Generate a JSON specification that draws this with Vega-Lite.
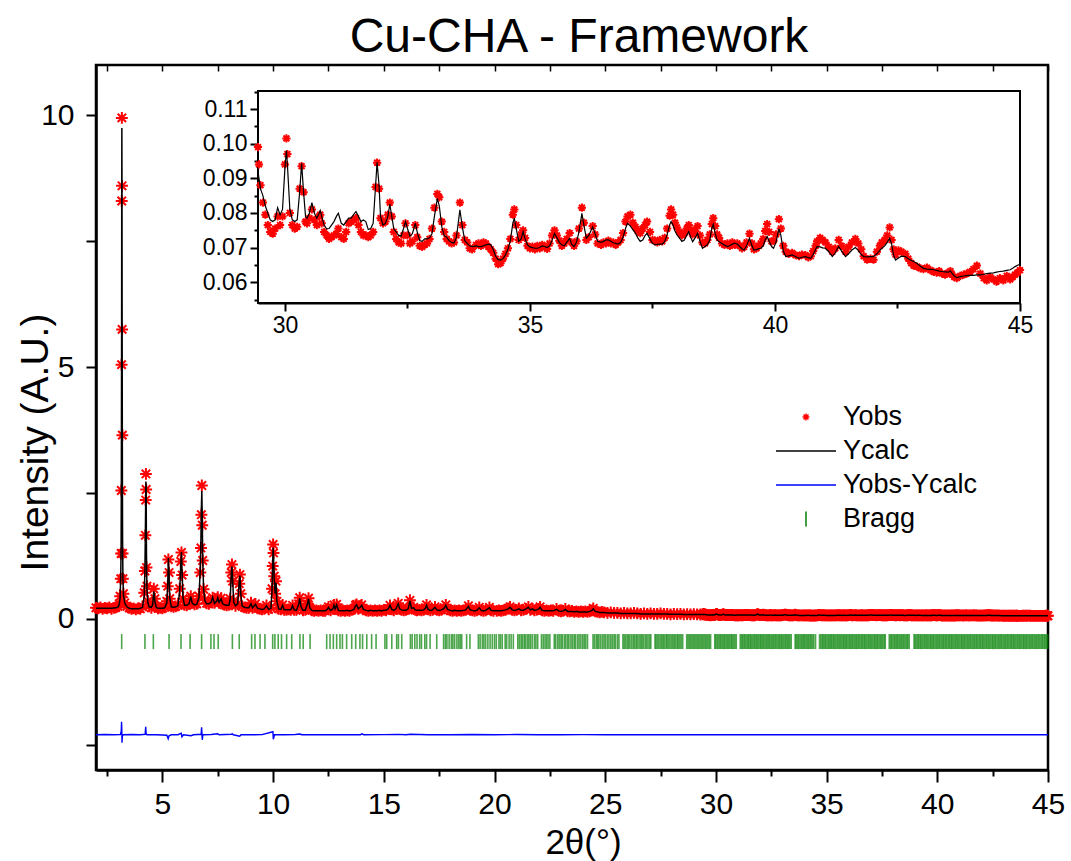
{
  "$schema": "https://vega.github.io/schema/vega-lite/v6.json",
  "width": 952,
  "height": 705,
  "autosize": {"type": "none"},
  "padding": {"left": 96, "top": 65, "right": 23, "bottom": 91},
  "background": "white",
  "title": {"text": "Cu-CHA - Framework", "fontSize": 48, "font": "Liberation Sans", "fontWeight": "normal", "anchor": "middle", "frame": "group", "offset": 2, "dx": 7, "color": "black"},
  "config": {
    "view": {"stroke": "black", "strokeWidth": 2.5},
    "axis": {"grid": false, "domainColor": "black", "tickColor": "black", "labelColor": "black", "titleColor": "black", "titleFontWeight": "normal", "labelFont": "Liberation Sans", "titleFont": "Liberation Sans"}
  },
  "datasets": {
    "pattern": [
      {"x":2.0,"obs":0.22,"calc":0.21},{"x":2.1,"obs":0.21,"calc":0.21},{"x":2.2,"obs":0.23,"calc":0.21},{"x":2.3,"obs":0.2,"calc":0.21},{"x":2.4,"obs":0.22,"calc":0.21},
      {"x":2.5,"obs":0.21,"calc":0.21},{"x":2.6,"obs":0.23,"calc":0.21},{"x":2.7,"obs":0.2,"calc":0.21},{"x":2.8,"obs":0.22,"calc":0.215},{"x":2.9,"obs":0.23,"calc":0.22},
      {"x":3.0,"obs":0.25,"calc":0.24},{"x":3.05,"obs":0.3,"calc":0.29},{"x":3.09,"obs":0.45,"calc":0.42},{"x":3.12,"obs":0.8,"calc":0.9},{"x":3.135,"obs":1.3,"calc":1.5},
      {"x":3.145,"obs":2.55,"calc":2.8},{"x":3.155,"obs":5.05,"calc":5.2},{"x":3.162,"obs":8.3,"calc":8.1},{"x":3.168,"obs":9.95,"calc":9.75},{"x":3.174,"obs":8.6,"calc":8.5},
      {"x":3.18,"obs":5.75,"calc":5.9},{"x":3.19,"obs":3.65,"calc":3.4},{"x":3.2,"obs":1.3,"calc":1.6},{"x":3.215,"obs":0.8,"calc":0.85},{"x":3.24,"obs":0.5,"calc":0.48},
      {"x":3.3,"obs":0.32,"calc":0.31},{"x":3.4,"obs":0.25,"calc":0.24},{"x":3.5,"obs":0.22,"calc":0.21},{"x":3.6,"obs":0.2,"calc":0.2},{"x":3.7,"obs":0.21,"calc":0.2},
      {"x":3.8,"obs":0.19,"calc":0.2},{"x":3.9,"obs":0.21,"calc":0.2},{"x":4.0,"obs":0.2,"calc":0.21},{"x":4.1,"obs":0.24,"calc":0.23},{"x":4.18,"obs":0.52,"calc":0.45},
      {"x":4.21,"obs":0.95,"calc":1.0},{"x":4.23,"obs":1.66,"calc":1.7},{"x":4.245,"obs":2.36,"calc":2.4},{"x":4.255,"obs":2.88,"calc":2.73},{"x":4.265,"obs":2.57,"calc":2.6},
      {"x":4.28,"obs":1.02,"calc":1.3},{"x":4.3,"obs":0.65,"calc":0.6},{"x":4.34,"obs":0.35,"calc":0.33},{"x":4.4,"obs":0.25,"calc":0.24},{"x":4.5,"obs":0.22,"calc":0.23},
      {"x":4.56,"obs":0.3,"calc":0.28},{"x":4.61,"obs":0.6,"calc":0.55},{"x":4.66,"obs":0.4,"calc":0.35},{"x":4.72,"obs":0.24,"calc":0.23},{"x":4.8,"obs":0.21,"calc":0.21},
      {"x":4.9,"obs":0.22,"calc":0.21},{"x":5.0,"obs":0.21,"calc":0.21},{"x":5.1,"obs":0.23,"calc":0.22},{"x":5.2,"obs":0.35,"calc":0.32},{"x":5.24,"obs":0.65,"calc":0.7},
      {"x":5.27,"obs":1.18,"calc":1.21},{"x":5.3,"obs":0.92,"calc":0.9},{"x":5.33,"obs":0.4,"calc":0.42},{"x":5.4,"obs":0.25,"calc":0.24},{"x":5.5,"obs":0.24,"calc":0.23},
      {"x":5.6,"obs":0.25,"calc":0.24},{"x":5.7,"obs":0.27,"calc":0.26},{"x":5.78,"obs":0.6,"calc":0.55},{"x":5.83,"obs":1.14,"calc":1.1},{"x":5.86,"obs":1.32,"calc":1.33},
      {"x":5.89,"obs":0.87,"calc":0.9},{"x":5.93,"obs":0.4,"calc":0.42},{"x":6.0,"obs":0.28,"calc":0.27},{"x":6.1,"obs":0.27,"calc":0.27},{"x":6.2,"obs":0.3,"calc":0.3},
      {"x":6.28,"obs":0.45,"calc":0.44},{"x":6.35,"obs":0.32,"calc":0.31},{"x":6.45,"obs":0.29,"calc":0.28},{"x":6.55,"obs":0.3,"calc":0.29},{"x":6.65,"obs":0.45,"calc":0.42},
      {"x":6.71,"obs":0.92,"calc":1.0},{"x":6.74,"obs":1.41,"calc":1.6},{"x":6.76,"obs":2.07,"calc":2.2},{"x":6.78,"obs":2.65,"calc":2.54},{"x":6.8,"obs":1.86,"calc":2.0},
      {"x":6.82,"obs":1.16,"calc":1.2},{"x":6.86,"obs":0.59,"calc":0.6},{"x":6.92,"obs":0.38,"calc":0.36},{"x":7.0,"obs":0.31,"calc":0.3},{"x":7.1,"obs":0.3,"calc":0.3},
      {"x":7.2,"obs":0.33,"calc":0.33},{"x":7.27,"obs":0.42,"calc":0.43},{"x":7.35,"obs":0.32,"calc":0.31},{"x":7.45,"obs":0.36,"calc":0.35},{"x":7.5,"obs":0.43,"calc":0.42},
      {"x":7.56,"obs":0.32,"calc":0.33},{"x":7.65,"obs":0.41,"calc":0.4},{"x":7.72,"obs":0.3,"calc":0.3},{"x":7.8,"obs":0.28,"calc":0.28},{"x":7.9,"obs":0.27,"calc":0.27},
      {"x":8.0,"obs":0.28,"calc":0.27},{"x":8.06,"obs":0.4,"calc":0.38},{"x":8.11,"obs":0.92,"calc":0.9},{"x":8.14,"obs":1.08,"calc":1.04},{"x":8.17,"obs":0.75,"calc":0.8},
      {"x":8.22,"obs":0.33,"calc":0.33},{"x":8.3,"obs":0.26,"calc":0.26},{"x":8.4,"obs":0.3,"calc":0.3},{"x":8.47,"obs":0.7,"calc":0.75},{"x":8.5,"obs":0.88,"calc":0.86},
      {"x":8.54,"obs":0.5,"calc":0.5},{"x":8.6,"obs":0.25,"calc":0.26},{"x":8.7,"obs":0.23,"calc":0.23},{"x":8.8,"obs":0.22,"calc":0.22},{"x":8.9,"obs":0.22,"calc":0.22},
      {"x":9.0,"obs":0.32,"calc":0.3},{"x":9.07,"obs":0.22,"calc":0.22},{"x":9.2,"obs":0.3,"calc":0.29},{"x":9.3,"obs":0.21,"calc":0.21},{"x":9.4,"obs":0.2,"calc":0.2},
      {"x":9.5,"obs":0.19,"calc":0.19},{"x":9.6,"obs":0.2,"calc":0.2},{"x":9.7,"obs":0.27,"calc":0.26},{"x":9.8,"obs":0.19,"calc":0.19},{"x":9.9,"obs":0.22,"calc":0.21},
      {"x":9.95,"obs":0.6,"calc":0.55},{"x":9.98,"obs":1.05,"calc":1.1},{"x":10.0,"obs":1.48,"calc":1.42},{"x":10.02,"obs":1.31,"calc":1.25},{"x":10.05,"obs":0.85,"calc":0.8},
      {"x":10.09,"obs":0.5,"calc":0.5},{"x":10.13,"obs":0.75,"calc":0.72},{"x":10.17,"obs":0.35,"calc":0.35},{"x":10.25,"obs":0.2,"calc":0.2},{"x":10.35,"obs":0.19,"calc":0.19},
      {"x":10.43,"obs":0.28,"calc":0.27},{"x":10.5,"obs":0.18,"calc":0.18},{"x":10.6,"obs":0.18,"calc":0.18},{"x":10.7,"obs":0.19,"calc":0.18},{"x":10.8,"obs":0.18,"calc":0.18},
      {"x":10.88,"obs":0.27,"calc":0.26},{"x":10.95,"obs":0.18,"calc":0.18},{"x":11.05,"obs":0.18,"calc":0.17},{"x":11.15,"obs":0.3,"calc":0.28},{"x":11.2,"obs":0.42,"calc":0.41},
      {"x":11.26,"obs":0.24,"calc":0.24},{"x":11.35,"obs":0.17,"calc":0.17},{"x":11.45,"obs":0.18,"calc":0.17},{"x":11.55,"obs":0.3,"calc":0.3},{"x":11.6,"obs":0.41,"calc":0.4},
      {"x":11.66,"obs":0.22,"calc":0.22},{"x":11.75,"obs":0.17,"calc":0.17},{"x":11.85,"obs":0.16,"calc":0.16},{"x":11.95,"obs":0.17,"calc":0.16},{"x":12.05,"obs":0.16,"calc":0.16},
      {"x":12.15,"obs":0.17,"calc":0.16},{"x":12.25,"obs":0.16,"calc":0.16},{"x":12.35,"obs":0.16,"calc":0.16},{"x":12.45,"obs":0.2,"calc":0.19},{"x":12.5,"obs":0.24,"calc":0.23},
      {"x":12.6,"obs":0.17,"calc":0.17},{"x":12.7,"obs":0.2,"calc":0.2},{"x":12.75,"obs":0.28,"calc":0.27},{"x":12.8,"obs":0.2,"calc":0.2},{"x":12.87,"obs":0.29,"calc":0.28},
      {"x":12.95,"obs":0.17,"calc":0.17},{"x":13.05,"obs":0.16,"calc":0.16},{"x":13.15,"obs":0.17,"calc":0.16},{"x":13.25,"obs":0.16,"calc":0.16},{"x":13.35,"obs":0.17,"calc":0.17},
      {"x":13.45,"obs":0.16,"calc":0.16},{"x":13.55,"obs":0.18,"calc":0.17},{"x":13.65,"obs":0.2,"calc":0.19},{"x":13.72,"obs":0.27,"calc":0.26},{"x":13.77,"obs":0.29,"calc":0.28},
      {"x":13.85,"obs":0.2,"calc":0.2},{"x":13.93,"obs":0.24,"calc":0.23},{"x":14.0,"obs":0.28,"calc":0.27},{"x":14.08,"obs":0.19,"calc":0.19},{"x":14.2,"obs":0.17,"calc":0.17},
      {"x":14.3,"obs":0.16,"calc":0.16},{"x":14.4,"obs":0.17,"calc":0.17},{"x":14.5,"obs":0.16,"calc":0.16},{"x":14.6,"obs":0.17,"calc":0.16},{"x":14.7,"obs":0.16,"calc":0.16},
      {"x":14.8,"obs":0.17,"calc":0.17},{"x":14.9,"obs":0.16,"calc":0.16},{"x":15.0,"obs":0.18,"calc":0.17},{"x":15.1,"obs":0.17,"calc":0.17},{"x":15.2,"obs":0.2,"calc":0.2},
      {"x":15.28,"obs":0.27,"calc":0.27},{"x":15.36,"obs":0.19,"calc":0.19},{"x":15.45,"obs":0.17,"calc":0.17},{"x":15.55,"obs":0.2,"calc":0.2},{"x":15.65,"obs":0.31,"calc":0.3},
      {"x":15.72,"obs":0.2,"calc":0.2},{"x":15.8,"obs":0.18,"calc":0.18},{"x":15.9,"obs":0.17,"calc":0.17},{"x":16.0,"obs":0.18,"calc":0.17},{"x":16.1,"obs":0.2,"calc":0.2},
      {"x":16.18,"obs":0.37,"calc":0.36},{"x":16.25,"obs":0.21,"calc":0.21},{"x":16.35,"obs":0.23,"calc":0.22},{"x":16.42,"obs":0.18,"calc":0.18},{"x":16.5,"obs":0.17,"calc":0.17},
      {"x":16.6,"obs":0.18,"calc":0.17},{"x":16.7,"obs":0.17,"calc":0.17},{"x":16.8,"obs":0.18,"calc":0.18},{"x":16.88,"obs":0.22,"calc":0.21},{"x":16.93,"obs":0.28,"calc":0.27},
      {"x":17.0,"obs":0.19,"calc":0.19},{"x":17.1,"obs":0.17,"calc":0.17},{"x":17.2,"obs":0.18,"calc":0.18},{"x":17.31,"obs":0.24,"calc":0.23},{"x":17.4,"obs":0.18,"calc":0.18},
      {"x":17.5,"obs":0.17,"calc":0.17},{"x":17.6,"obs":0.18,"calc":0.18},{"x":17.72,"obs":0.22,"calc":0.21},{"x":17.8,"obs":0.28,"calc":0.27},{"x":17.88,"obs":0.19,"calc":0.19},
      {"x":18.0,"obs":0.17,"calc":0.17},{"x":18.1,"obs":0.16,"calc":0.16},{"x":18.2,"obs":0.17,"calc":0.17},{"x":18.3,"obs":0.16,"calc":0.16},{"x":18.4,"obs":0.17,"calc":0.16},
      {"x":18.5,"obs":0.16,"calc":0.16},{"x":18.6,"obs":0.17,"calc":0.17},{"x":18.7,"obs":0.18,"calc":0.18},{"x":18.82,"obs":0.26,"calc":0.25},{"x":18.9,"obs":0.18,"calc":0.18},
      {"x":19.0,"obs":0.17,"calc":0.17},{"x":19.1,"obs":0.16,"calc":0.16},{"x":19.2,"obs":0.17,"calc":0.17},{"x":19.31,"obs":0.23,"calc":0.22},{"x":19.4,"obs":0.17,"calc":0.17},
      {"x":19.5,"obs":0.16,"calc":0.16},{"x":19.6,"obs":0.17,"calc":0.17},{"x":19.77,"obs":0.23,"calc":0.22},{"x":19.85,"obs":0.17,"calc":0.17},{"x":19.95,"obs":0.16,"calc":0.16},
      {"x":20.1,"obs":0.16,"calc":0.16},{"x":20.2,"obs":0.17,"calc":0.16},{"x":20.3,"obs":0.16,"calc":0.16},{"x":20.4,"obs":0.17,"calc":0.17},{"x":20.5,"obs":0.18,"calc":0.18},
      {"x":20.62,"obs":0.21,"calc":0.2},{"x":20.7,"obs":0.24,"calc":0.23},{"x":20.8,"obs":0.18,"calc":0.18},{"x":20.9,"obs":0.17,"calc":0.17},{"x":21.0,"obs":0.18,"calc":0.18},
      {"x":21.1,"obs":0.21,"calc":0.2},{"x":21.2,"obs":0.17,"calc":0.17},{"x":21.3,"obs":0.18,"calc":0.17},{"x":21.42,"obs":0.2,"calc":0.2},{"x":21.53,"obs":0.24,"calc":0.23},
      {"x":21.62,"obs":0.18,"calc":0.18},{"x":21.72,"obs":0.2,"calc":0.2},{"x":21.8,"obs":0.17,"calc":0.17},{"x":21.9,"obs":0.18,"calc":0.18},{"x":22.0,"obs":0.2,"calc":0.2},
      {"x":22.06,"obs":0.24,"calc":0.23},{"x":22.15,"obs":0.17,"calc":0.17},{"x":22.25,"obs":0.16,"calc":0.16},{"x":22.35,"obs":0.17,"calc":0.16},{"x":22.45,"obs":0.16,"calc":0.16},
      {"x":22.55,"obs":0.17,"calc":0.16},{"x":22.65,"obs":0.16,"calc":0.16},{"x":22.8,"obs":0.2,"calc":0.19},{"x":22.9,"obs":0.16,"calc":0.16},{"x":23.0,"obs":0.15,"calc":0.15},
      {"x":23.1,"obs":0.16,"calc":0.16},{"x":23.2,"obs":0.2,"calc":0.19},{"x":23.3,"obs":0.15,"calc":0.15},{"x":23.4,"obs":0.15,"calc":0.15},{"x":23.5,"obs":0.16,"calc":0.15},
      {"x":23.6,"obs":0.14,"calc":0.14},{"x":23.7,"obs":0.15,"calc":0.15},{"x":23.8,"obs":0.14,"calc":0.14},{"x":23.9,"obs":0.15,"calc":0.14},{"x":24.0,"obs":0.14,"calc":0.14},
      {"x":24.1,"obs":0.15,"calc":0.14},{"x":24.2,"obs":0.14,"calc":0.14},{"x":24.3,"obs":0.15,"calc":0.15},{"x":24.4,"obs":0.17,"calc":0.17},{"x":24.46,"obs":0.21,"calc":0.2},
      {"x":24.55,"obs":0.15,"calc":0.15},{"x":24.65,"obs":0.14,"calc":0.14},{"x":24.75,"obs":0.13,"calc":0.13},{"x":24.85,"obs":0.14,"calc":0.13},{"x":24.95,"obs":0.13,"calc":0.13},
      {"x":25.1,"obs":0.12,"calc":0.12},{"x":25.25,"obs":0.13,"calc":0.12},{"x":25.4,"obs":0.12,"calc":0.12},{"x":25.55,"obs":0.12,"calc":0.12},{"x":25.7,"obs":0.11,"calc":0.11},
      {"x":25.85,"obs":0.12,"calc":0.11},{"x":26.0,"obs":0.11,"calc":0.11},{"x":26.15,"obs":0.11,"calc":0.11},{"x":26.3,"obs":0.12,"calc":0.11},{"x":26.45,"obs":0.11,"calc":0.11},
      {"x":26.6,"obs":0.1,"calc":0.1},{"x":26.75,"obs":0.11,"calc":0.1},{"x":26.9,"obs":0.1,"calc":0.1},{"x":27.05,"obs":0.11,"calc":0.1},{"x":27.2,"obs":0.1,"calc":0.1},
      {"x":27.35,"obs":0.1,"calc":0.1},{"x":27.5,"obs":0.11,"calc":0.1},{"x":27.65,"obs":0.1,"calc":0.1},{"x":27.8,"obs":0.1,"calc":0.1},{"x":27.95,"obs":0.09,"calc":0.095},
      {"x":28.1,"obs":0.1,"calc":0.095},{"x":28.25,"obs":0.095,"calc":0.095},{"x":28.4,"obs":0.1,"calc":0.095},{"x":28.55,"obs":0.09,"calc":0.09},{"x":28.7,"obs":0.095,"calc":0.09},
      {"x":28.85,"obs":0.09,"calc":0.09},{"x":29.0,"obs":0.095,"calc":0.09},{"x":29.15,"obs":0.09,"calc":0.09},{"x":29.3,"obs":0.088,"calc":0.09},{"x":29.4,"obs":0.092,"calc":0.089},
      {"x":29.45,"obs":0.099,"calc":0.092},{"x":29.47,"obs":0.094,"calc":0.09},{"x":29.5,"obs":0.088,"calc":0.087},{"x":29.55,"obs":0.083,"calc":0.085},{"x":29.6,"obs":0.0795,"calc":0.082},
      {"x":29.65,"obs":0.0765,"calc":0.08},{"x":29.7,"obs":0.0745,"calc":0.078},{"x":29.75,"obs":0.074,"calc":0.0775},{"x":29.8,"obs":0.0755,"calc":0.078},{"x":29.85,"obs":0.079,"calc":0.0815},
      {"x":29.9,"obs":0.0765,"calc":0.0795},{"x":29.95,"obs":0.079,"calc":0.081},{"x":30.0,"obs":0.094,"calc":0.093},{"x":30.03,"obs":0.1015,"calc":0.098},{"x":30.05,"obs":0.097,"calc":0.094},
      {"x":30.1,"obs":0.08,"calc":0.081},{"x":30.15,"obs":0.0765,"calc":0.078},{"x":30.2,"obs":0.0755,"calc":0.0775},{"x":30.25,"obs":0.076,"calc":0.078},{"x":30.3,"obs":0.087,"calc":0.086},
      {"x":30.34,"obs":0.0935,"calc":0.0943},{"x":30.38,"obs":0.086,"calc":0.086},{"x":30.42,"obs":0.0775,"calc":0.079},{"x":30.45,"obs":0.077,"calc":0.0785},{"x":30.5,"obs":0.0785,"calc":0.08},
      {"x":30.55,"obs":0.081,"calc":0.083},{"x":30.6,"obs":0.078,"calc":0.08},{"x":30.65,"obs":0.0765,"calc":0.0785},{"x":30.7,"obs":0.079,"calc":0.08},{"x":30.72,"obs":0.0795,"calc":0.0807},
      {"x":30.75,"obs":0.077,"calc":0.079},{"x":30.8,"obs":0.0745,"calc":0.0765},{"x":30.85,"obs":0.0735,"calc":0.0754},{"x":30.9,"obs":0.0725,"calc":0.0755},{"x":30.95,"obs":0.073,"calc":0.0765},
      {"x":31.0,"obs":0.0735,"calc":0.0775},{"x":31.05,"obs":0.074,"calc":0.079},{"x":31.09,"obs":0.0755,"calc":0.0799},{"x":31.15,"obs":0.073,"calc":0.077},{"x":31.2,"obs":0.0725,"calc":0.0765},
      {"x":31.25,"obs":0.0745,"calc":0.0775},{"x":31.3,"obs":0.077,"calc":0.0785},{"x":31.35,"obs":0.0775,"calc":0.0785},{"x":31.4,"obs":0.078,"calc":0.0795},{"x":31.45,"obs":0.0785,"calc":0.0804},
      {"x":31.5,"obs":0.0765,"calc":0.079},{"x":31.55,"obs":0.0745,"calc":0.0775},{"x":31.6,"obs":0.0735,"calc":0.078},{"x":31.65,"obs":0.0735,"calc":0.0775},{"x":31.7,"obs":0.073,"calc":0.0752},
      {"x":31.75,"obs":0.0735,"calc":0.0755},{"x":31.8,"obs":0.0745,"calc":0.077},{"x":31.85,"obs":0.0875,"calc":0.088},{"x":31.88,"obs":0.0945,"calc":0.0946},{"x":31.92,"obs":0.087,"calc":0.088},
      {"x":31.95,"obs":0.0785,"calc":0.079},{"x":32.0,"obs":0.077,"calc":0.0765},{"x":32.05,"obs":0.0775,"calc":0.077},{"x":32.1,"obs":0.0795,"calc":0.079},{"x":32.14,"obs":0.083,"calc":0.0825},
      {"x":32.18,"obs":0.079,"calc":0.079},{"x":32.22,"obs":0.0745,"calc":0.0755},{"x":32.27,"obs":0.0725,"calc":0.0745},{"x":32.32,"obs":0.0715,"calc":0.0735},{"x":32.37,"obs":0.0712,"calc":0.0733},
      {"x":32.42,"obs":0.0735,"calc":0.0755},{"x":32.46,"obs":0.077,"calc":0.0775},{"x":32.5,"obs":0.0735,"calc":0.0755},{"x":32.55,"obs":0.0712,"calc":0.0733},{"x":32.6,"obs":0.0718,"calc":0.074},
      {"x":32.66,"obs":0.0765,"calc":0.077},{"x":32.7,"obs":0.073,"calc":0.0745},{"x":32.75,"obs":0.0705,"calc":0.072},{"x":32.8,"obs":0.0702,"calc":0.0718},{"x":32.85,"obs":0.0708,"calc":0.0725},
      {"x":32.9,"obs":0.0712,"calc":0.0725},{"x":32.95,"obs":0.0725,"calc":0.0728},{"x":33.0,"obs":0.0755,"calc":0.074},{"x":33.05,"obs":0.0815,"calc":0.079},{"x":33.11,"obs":0.0855,"calc":0.0842},
      {"x":33.15,"obs":0.0845,"calc":0.082},{"x":33.2,"obs":0.0775,"calc":0.076},{"x":33.25,"obs":0.0745,"calc":0.0735},{"x":33.3,"obs":0.0725,"calc":0.073},{"x":33.35,"obs":0.0718,"calc":0.072},
      {"x":33.4,"obs":0.0712,"calc":0.0715},{"x":33.45,"obs":0.0715,"calc":0.0713},{"x":33.5,"obs":0.0735,"calc":0.073},{"x":33.57,"obs":0.083,"calc":0.0809},{"x":33.62,"obs":0.0765,"calc":0.076},
      {"x":33.67,"obs":0.0722,"calc":0.072},{"x":33.72,"obs":0.0715,"calc":0.0712},{"x":33.77,"obs":0.0698,"calc":0.0705},{"x":33.82,"obs":0.0695,"calc":0.0703},{"x":33.9,"obs":0.0708,"calc":0.0705},
      {"x":33.95,"obs":0.0712,"calc":0.0703},{"x":34.0,"obs":0.0705,"calc":0.0703},{"x":34.05,"obs":0.0715,"calc":0.0705},{"x":34.1,"obs":0.0712,"calc":0.0708},{"x":34.15,"obs":0.0702,"calc":0.071},
      {"x":34.2,"obs":0.0695,"calc":0.0708},{"x":34.25,"obs":0.0685,"calc":0.0695},{"x":34.3,"obs":0.0668,"calc":0.0675},{"x":34.35,"obs":0.0652,"calc":0.0665},{"x":34.4,"obs":0.0655,"calc":0.0664},
      {"x":34.45,"obs":0.0668,"calc":0.0668},{"x":34.5,"obs":0.0682,"calc":0.0679},{"x":34.55,"obs":0.0698,"calc":0.0695},{"x":34.6,"obs":0.0725,"calc":0.072},{"x":34.65,"obs":0.0795,"calc":0.077},
      {"x":34.68,"obs":0.081,"calc":0.0785},{"x":34.72,"obs":0.0765,"calc":0.0755},{"x":34.77,"obs":0.0722,"calc":0.0718},{"x":34.82,"obs":0.0738,"calc":0.0725},{"x":34.86,"obs":0.075,"calc":0.0746},
      {"x":34.9,"obs":0.0728,"calc":0.0725},{"x":34.95,"obs":0.0705,"calc":0.0708},{"x":35.0,"obs":0.0698,"calc":0.0702},{"x":35.05,"obs":0.0703,"calc":0.07},{"x":35.1,"obs":0.0695,"calc":0.0698},
      {"x":35.15,"obs":0.0705,"calc":0.0698},{"x":35.2,"obs":0.0698,"calc":0.07},{"x":35.25,"obs":0.0708,"calc":0.0705},{"x":35.3,"obs":0.0702,"calc":0.0703},{"x":35.35,"obs":0.0696,"calc":0.07},
      {"x":35.4,"obs":0.0712,"calc":0.0705},{"x":35.45,"obs":0.0735,"calc":0.072},{"x":35.5,"obs":0.075,"calc":0.0741},{"x":35.55,"obs":0.0735,"calc":0.0728},{"x":35.6,"obs":0.072,"calc":0.0715},
      {"x":35.65,"obs":0.0705,"calc":0.0708},{"x":35.7,"obs":0.0712,"calc":0.0705},{"x":35.75,"obs":0.0725,"calc":0.0715},{"x":35.81,"obs":0.0742,"calc":0.0727},{"x":35.85,"obs":0.0715,"calc":0.071},
      {"x":35.9,"obs":0.0705,"calc":0.0703},{"x":35.95,"obs":0.0718,"calc":0.0715},{"x":36.0,"obs":0.0755,"calc":0.0745},{"x":36.06,"obs":0.0815,"calc":0.0799},{"x":36.1,"obs":0.0772,"calc":0.0765},
      {"x":36.15,"obs":0.0722,"calc":0.0727},{"x":36.2,"obs":0.073,"calc":0.0735},{"x":36.28,"obs":0.0762,"calc":0.076},{"x":36.33,"obs":0.0738,"calc":0.074},{"x":36.38,"obs":0.0712,"calc":0.0718},
      {"x":36.45,"obs":0.0708,"calc":0.0715},{"x":36.5,"obs":0.0715,"calc":0.0718},{"x":36.55,"obs":0.0712,"calc":0.0722},{"x":36.6,"obs":0.072,"calc":0.0722},{"x":36.65,"obs":0.0712,"calc":0.0718},
      {"x":36.7,"obs":0.0715,"calc":0.0714},{"x":36.75,"obs":0.0708,"calc":0.0712},{"x":36.8,"obs":0.0715,"calc":0.071},{"x":36.85,"obs":0.0722,"calc":0.0715},{"x":36.9,"obs":0.0742,"calc":0.073},
      {"x":36.95,"obs":0.0775,"calc":0.0755},{"x":36.99,"obs":0.079,"calc":0.077},{"x":37.05,"obs":0.0795,"calc":0.0762},{"x":37.1,"obs":0.0772,"calc":0.0752},{"x":37.15,"obs":0.076,"calc":0.0742},
      {"x":37.2,"obs":0.0748,"calc":0.0728},{"x":37.25,"obs":0.0742,"calc":0.0718},{"x":37.3,"obs":0.0755,"calc":0.0722},{"x":37.35,"obs":0.0765,"calc":0.0735},{"x":37.39,"obs":0.0775,"calc":0.0741},
      {"x":37.45,"obs":0.0745,"calc":0.0725},{"x":37.5,"obs":0.0722,"calc":0.0712},{"x":37.55,"obs":0.072,"calc":0.0708},{"x":37.6,"obs":0.0715,"calc":0.0709},{"x":37.65,"obs":0.0722,"calc":0.071},
      {"x":37.7,"obs":0.0718,"calc":0.071},{"x":37.75,"obs":0.0728,"calc":0.0718},{"x":37.8,"obs":0.0755,"calc":0.0738},{"x":37.85,"obs":0.0792,"calc":0.0765},{"x":37.88,"obs":0.081,"calc":0.0775},
      {"x":37.92,"obs":0.0795,"calc":0.0765},{"x":37.96,"obs":0.0772,"calc":0.0748},{"x":38.0,"obs":0.0758,"calc":0.0737},{"x":38.05,"obs":0.0745,"calc":0.0728},{"x":38.1,"obs":0.0735,"calc":0.0718},
      {"x":38.15,"obs":0.0742,"calc":0.0722},{"x":38.2,"obs":0.0755,"calc":0.0736},{"x":38.24,"obs":0.0765,"calc":0.0746},{"x":38.28,"obs":0.0752,"calc":0.073},{"x":38.32,"obs":0.0738,"calc":0.0717},
      {"x":38.37,"obs":0.0748,"calc":0.0728},{"x":38.42,"obs":0.0762,"calc":0.0741},{"x":38.47,"obs":0.0735,"calc":0.0718},{"x":38.52,"obs":0.0715,"calc":0.0698},{"x":38.57,"obs":0.0712,"calc":0.0703},
      {"x":38.62,"obs":0.0722,"calc":0.0708},{"x":38.67,"obs":0.0738,"calc":0.0722},{"x":38.71,"obs":0.0768,"calc":0.0755},{"x":38.74,"obs":0.0785,"calc":0.0767},{"x":38.78,"obs":0.0762,"calc":0.074},
      {"x":38.82,"obs":0.0738,"calc":0.0722},{"x":38.86,"obs":0.0728,"calc":0.0717},{"x":38.92,"obs":0.0712,"calc":0.0712},{"x":38.97,"obs":0.0708,"calc":0.0707},{"x":39.03,"obs":0.0712,"calc":0.0703},
      {"x":39.08,"obs":0.0705,"calc":0.0706},{"x":39.13,"obs":0.0715,"calc":0.071},{"x":39.18,"obs":0.0708,"calc":0.0713},{"x":39.23,"obs":0.0712,"calc":0.071},{"x":39.28,"obs":0.0705,"calc":0.0703},
      {"x":39.33,"obs":0.0698,"calc":0.0696},{"x":39.37,"obs":0.0702,"calc":0.0693},{"x":39.42,"obs":0.0715,"calc":0.0705},{"x":39.48,"obs":0.074,"calc":0.0727},{"x":39.53,"obs":0.0712,"calc":0.0705},
      {"x":39.57,"obs":0.0695,"calc":0.0693},{"x":39.62,"obs":0.0698,"calc":0.0694},{"x":39.67,"obs":0.0705,"calc":0.0697},{"x":39.71,"obs":0.0712,"calc":0.0698},{"x":39.76,"obs":0.0725,"calc":0.0705},
      {"x":39.8,"obs":0.0748,"calc":0.0722},{"x":39.84,"obs":0.0768,"calc":0.0732},{"x":39.88,"obs":0.0745,"calc":0.0718},{"x":39.93,"obs":0.0718,"calc":0.0703},{"x":39.97,"obs":0.072,"calc":0.0698},
      {"x":40.02,"obs":0.0738,"calc":0.0715},{"x":40.08,"obs":0.0782,"calc":0.0754},{"x":40.12,"obs":0.0755,"calc":0.0735},{"x":40.17,"obs":0.0705,"calc":0.069},{"x":40.22,"obs":0.0688,"calc":0.0674},
      {"x":40.28,"obs":0.0682,"calc":0.0676},{"x":40.35,"obs":0.0685,"calc":0.0679},{"x":40.42,"obs":0.0678,"calc":0.0674},{"x":40.49,"obs":0.0675,"calc":0.0669},{"x":40.55,"obs":0.068,"calc":0.0672},
      {"x":40.62,"obs":0.0678,"calc":0.0674},{"x":40.68,"obs":0.0672,"calc":0.0671},{"x":40.73,"obs":0.0675,"calc":0.0669},{"x":40.78,"obs":0.069,"calc":0.068},{"x":40.83,"obs":0.0705,"calc":0.0695},
      {"x":40.86,"obs":0.0718,"calc":0.0703},{"x":40.92,"obs":0.0728,"calc":0.0702},{"x":40.97,"obs":0.0722,"calc":0.0699},{"x":41.03,"obs":0.0715,"calc":0.0698},{"x":41.1,"obs":0.0702,"calc":0.0688},
      {"x":41.17,"obs":0.0688,"calc":0.0674},{"x":41.23,"obs":0.0698,"calc":0.0685},{"x":41.3,"obs":0.0722,"calc":0.0703},{"x":41.36,"obs":0.0705,"calc":0.069},{"x":41.44,"obs":0.0688,"calc":0.0674},
      {"x":41.5,"obs":0.0702,"calc":0.0682},{"x":41.57,"obs":0.0715,"calc":0.0693},{"x":41.64,"obs":0.0725,"calc":0.07},{"x":41.7,"obs":0.0712,"calc":0.0692},{"x":41.76,"obs":0.0695,"calc":0.068},
      {"x":41.81,"obs":0.0675,"calc":0.0674},{"x":41.88,"obs":0.0665,"calc":0.0673},{"x":41.95,"obs":0.0668,"calc":0.0674},{"x":42.01,"obs":0.0665,"calc":0.0674},{"x":42.08,"obs":0.0688,"calc":0.0682},
      {"x":42.14,"obs":0.0705,"calc":0.0692},{"x":42.18,"obs":0.0715,"calc":0.0698},{"x":42.24,"obs":0.0722,"calc":0.0705},{"x":42.29,"obs":0.0735,"calc":0.0715},{"x":42.34,"obs":0.0758,"calc":0.0727},
      {"x":42.38,"obs":0.0722,"calc":0.071},{"x":42.42,"obs":0.0695,"calc":0.0678},{"x":42.46,"obs":0.068,"calc":0.0664},{"x":42.52,"obs":0.0692,"calc":0.067},{"x":42.58,"obs":0.0688,"calc":0.0675},
      {"x":42.66,"obs":0.0682,"calc":0.0674},{"x":42.72,"obs":0.0668,"calc":0.0668},{"x":42.78,"obs":0.0655,"calc":0.0663},{"x":42.83,"obs":0.0648,"calc":0.066},{"x":42.9,"obs":0.0645,"calc":0.0654},
      {"x":42.97,"obs":0.064,"calc":0.0646},{"x":43.03,"obs":0.0638,"calc":0.064},{"x":43.1,"obs":0.0642,"calc":0.0638},{"x":43.17,"obs":0.0635,"calc":0.0637},{"x":43.24,"obs":0.063,"calc":0.0636},
      {"x":43.3,"obs":0.0628,"calc":0.0634},{"x":43.35,"obs":0.0632,"calc":0.0632},{"x":43.41,"obs":0.0625,"calc":0.0631},{"x":43.47,"obs":0.0622,"calc":0.063},{"x":43.54,"obs":0.0628,"calc":0.0629},
      {"x":43.58,"obs":0.0632,"calc":0.0633},{"x":43.61,"obs":0.0622,"calc":0.0626},{"x":43.66,"obs":0.0615,"calc":0.0618},{"x":43.71,"obs":0.0612,"calc":0.0613},{"x":43.78,"obs":0.0618,"calc":0.0616},
      {"x":43.85,"obs":0.0622,"calc":0.0618},{"x":43.91,"obs":0.0625,"calc":0.0619},{"x":43.98,"obs":0.063,"calc":0.062},{"x":44.05,"obs":0.0638,"calc":0.062},{"x":44.12,"obs":0.0648,"calc":0.0621},
      {"x":44.19,"obs":0.0625,"calc":0.0621},{"x":44.26,"obs":0.0612,"calc":0.0623},{"x":44.32,"obs":0.0605,"calc":0.0625},{"x":44.39,"obs":0.0615,"calc":0.0626},{"x":44.46,"obs":0.0608,"calc":0.0627},
      {"x":44.52,"obs":0.0602,"calc":0.0629},{"x":44.59,"obs":0.0612,"calc":0.0631},{"x":44.66,"obs":0.0605,"calc":0.0632},{"x":44.73,"obs":0.0618,"calc":0.0634},{"x":44.8,"obs":0.0608,"calc":0.0636},
      {"x":44.85,"obs":0.0615,"calc":0.064},{"x":44.9,"obs":0.0622,"calc":0.0645},{"x":44.95,"obs":0.0628,"calc":0.0649},{"x":45.0,"obs":0.0635,"calc":0.0652}
    ],
    "difference": [
      {"x":2.0,"diff":-2.3},{"x":2.4,"diff":-2.295},{"x":2.8,"diff":-2.3},{"x":3.1,"diff":-2.295},{"x":3.14,"diff":-2.23},{"x":3.155,"diff":-2.04},{"x":3.165,"diff":-2.19},{"x":3.175,"diff":-2.46},
      {"x":3.19,"diff":-2.33},{"x":3.23,"diff":-2.3},{"x":3.6,"diff":-2.295},{"x":4.0,"diff":-2.3},{"x":4.22,"diff":-2.29},{"x":4.245,"diff":-2.14},{"x":4.265,"diff":-2.28},{"x":4.3,"diff":-2.3},
      {"x":4.7,"diff":-2.3},{"x":5.0,"diff":-2.305},{"x":5.2,"diff":-2.31},{"x":5.26,"diff":-2.38},{"x":5.3,"diff":-2.32},{"x":5.4,"diff":-2.3},{"x":5.7,"diff":-2.3},{"x":5.85,"diff":-2.27},
      {"x":5.88,"diff":-2.34},{"x":5.95,"diff":-2.3},{"x":6.29,"diff":-2.32},{"x":6.4,"diff":-2.3},{"x":6.75,"diff":-2.29},{"x":6.77,"diff":-2.15},{"x":6.8,"diff":-2.4},{"x":6.83,"diff":-2.3},
      {"x":7.2,"diff":-2.295},{"x":7.5,"diff":-2.28},{"x":7.56,"diff":-2.3},{"x":8.12,"diff":-2.29},{"x":8.15,"diff":-2.28},{"x":8.2,"diff":-2.3},{"x":8.49,"diff":-2.33},{"x":8.55,"diff":-2.3},
      {"x":9.0,"diff":-2.3},{"x":9.5,"diff":-2.298},{"x":9.99,"diff":-2.24},{"x":10.01,"diff":-2.39},{"x":10.06,"diff":-2.3},{"x":10.5,"diff":-2.3},{"x":11.0,"diff":-2.295},{"x":11.2,"diff":-2.285},
      {"x":11.3,"diff":-2.3},{"x":12.0,"diff":-2.3},{"x":12.5,"diff":-2.297},{"x":13.0,"diff":-2.3},{"x":13.5,"diff":-2.3},{"x":13.95,"diff":-2.3},{"x":14.0,"diff":-2.28},{"x":14.1,"diff":-2.3},
      {"x":15.0,"diff":-2.298},{"x":15.65,"diff":-2.292},{"x":16.0,"diff":-2.3},{"x":16.2,"diff":-2.29},{"x":17.0,"diff":-2.3},{"x":18.0,"diff":-2.3},{"x":19.0,"diff":-2.295},{"x":20.0,"diff":-2.3},
      {"x":21.0,"diff":-2.296},{"x":22.0,"diff":-2.3},{"x":23.0,"diff":-2.3},{"x":24.0,"diff":-2.298},{"x":25.0,"diff":-2.3},{"x":30.0,"diff":-2.3},{"x":35.0,"diff":-2.3},{"x":40.0,"diff":-2.3},{"x":45.0,"diff":-2.3}
    ],
    "bragg": [
      {"pos":3.16},{"pos":4.21},{"pos":4.59},{"pos":5.3},{"pos":5.84},{"pos":6.25},{"pos":6.77},{"pos":7.19},{"pos":7.33},{"pos":7.52},{"pos":8.16},{"pos":8.47},{"pos":9.03},{"pos":9.18},{"pos":9.41},{"pos":9.63},{"pos":9.98},{"pos":10.08},{"pos":10.23},{"pos":10.38},
      {"pos":10.61},{"pos":10.84},{"pos":11.21},{"pos":11.36},{"pos":11.67},{"pos":12.42},{"pos":12.57},{"pos":12.72},{"pos":12.87},{"pos":13.02},{"pos":13.13},{"pos":13.32},{"pos":13.55},{"pos":13.73},{"pos":13.92},{"pos":14.04},{"pos":14.23},{"pos":14.45},{"pos":14.65},{"pos":15.05},
      {"pos":15.13},{"pos":15.36},{"pos":15.58},{"pos":15.66},{"pos":15.81},{"pos":16.2},{"pos":16.28},{"pos":16.4},{"pos":16.5},{"pos":16.62},{"pos":16.7},{"pos":16.85},{"pos":16.93},{"pos":17.09},{"pos":17.39},{"pos":17.7},{"pos":17.78},{"pos":17.85},{"pos":17.95},{"pos":18.05},
      {"pos":18.12},{"pos":18.2},{"pos":18.3},{"pos":18.38},{"pos":18.45},{"pos":18.52},{"pos":18.74},{"pos":18.89},{"pos":19.27},{"pos":19.35},{"pos":19.45},{"pos":19.52},{"pos":19.6},{"pos":19.7},{"pos":19.8},{"pos":19.9},{"pos":20.0},{"pos":20.08},{"pos":20.2},{"pos":20.27},
      {"pos":20.35},{"pos":20.48},{"pos":20.55},{"pos":20.66},{"pos":20.75},{"pos":20.85},{"pos":21.05},{"pos":21.12},{"pos":21.2},{"pos":21.26},{"pos":21.34},{"pos":21.4},{"pos":21.48},{"pos":21.55},{"pos":21.62},{"pos":21.7},{"pos":21.8},{"pos":21.87},{"pos":21.95},{"pos":22.12},
      {"pos":22.2},{"pos":22.28},{"pos":22.35},{"pos":22.42},{"pos":22.5},{"pos":22.7},{"pos":22.76},{"pos":22.85},{"pos":22.92},{"pos":23.0},{"pos":23.06},{"pos":23.15},{"pos":23.22},{"pos":23.3},{"pos":23.36},{"pos":23.45},{"pos":23.52},{"pos":23.6},{"pos":23.66},{"pos":23.75},
      {"pos":23.82},{"pos":23.9},{"pos":23.98},{"pos":24.05},{"pos":24.12},{"pos":24.2},{"pos":24.45},{"pos":24.52},{"pos":24.6},{"pos":24.66},{"pos":24.72},{"pos":24.8},{"pos":24.88},{"pos":24.95},{"pos":25.02},{"pos":25.1},{"pos":25.17},{"pos":25.25},{"pos":25.32},{"pos":25.4},
      {"pos":25.46},{"pos":25.55},{"pos":25.62},{"pos":25.8},{"pos":25.86},{"pos":25.93},{"pos":26.0},{"pos":26.06},{"pos":26.12},{"pos":26.2},{"pos":26.27},{"pos":26.33},{"pos":26.4},{"pos":26.46},{"pos":26.53},{"pos":26.6},{"pos":26.66},{"pos":26.72},{"pos":26.8},{"pos":26.86},
      {"pos":26.93},{"pos":27.0},{"pos":27.06},{"pos":27.25},{"pos":27.3},{"pos":27.37},{"pos":27.43},{"pos":27.5},{"pos":27.56},{"pos":27.62},{"pos":27.68},{"pos":27.75},{"pos":27.8},{"pos":27.87},{"pos":27.93},{"pos":28.0},{"pos":28.06},{"pos":28.12},{"pos":28.18},{"pos":28.25},
      {"pos":28.3},{"pos":28.37},{"pos":28.43},{"pos":28.5},{"pos":28.68},{"pos":28.74},{"pos":28.8},{"pos":28.86},{"pos":28.92},{"pos":28.98},{"pos":29.04},{"pos":29.1},{"pos":29.16},{"pos":29.22},{"pos":29.28},{"pos":29.34},{"pos":29.4},{"pos":29.46},{"pos":29.52},{"pos":29.58},
      {"pos":29.64},{"pos":29.7},{"pos":29.76},{"pos":29.95},{"pos":30.0},{"pos":30.06},{"pos":30.12},{"pos":30.18},{"pos":30.23},{"pos":30.29},{"pos":30.35},{"pos":30.4},{"pos":30.46},{"pos":30.52},{"pos":30.57},{"pos":30.63},{"pos":30.69},{"pos":30.74},{"pos":30.8},{"pos":30.86},
      {"pos":30.92},{"pos":31.1},{"pos":31.16},{"pos":31.21},{"pos":31.27},{"pos":31.32},{"pos":31.38},{"pos":31.44},{"pos":31.49},{"pos":31.55},{"pos":31.6},{"pos":31.66},{"pos":31.72},{"pos":31.77},{"pos":31.83},{"pos":31.88},{"pos":31.94},{"pos":32.0},{"pos":32.05},{"pos":32.11},
      {"pos":32.16},{"pos":32.22},{"pos":32.28},{"pos":32.33},{"pos":32.39},{"pos":32.44},{"pos":32.5},{"pos":32.56},{"pos":32.61},{"pos":32.67},{"pos":32.72},{"pos":32.78},{"pos":32.84},{"pos":32.89},{"pos":32.95},{"pos":33.0},{"pos":33.06},{"pos":33.12},{"pos":33.17},{"pos":33.23},
      {"pos":33.28},{"pos":33.34},{"pos":33.4},{"pos":33.58},{"pos":33.63},{"pos":33.69},{"pos":33.74},{"pos":33.8},{"pos":33.86},{"pos":33.91},{"pos":33.97},{"pos":34.02},{"pos":34.08},{"pos":34.14},{"pos":34.19},{"pos":34.25},{"pos":34.3},{"pos":34.36},{"pos":34.42},{"pos":34.5},
      {"pos":34.68},{"pos":34.74},{"pos":34.8},{"pos":34.85},{"pos":34.91},{"pos":34.96},{"pos":35.02},{"pos":35.08},{"pos":35.13},{"pos":35.19},{"pos":35.24},{"pos":35.3},{"pos":35.35},{"pos":35.41},{"pos":35.47},{"pos":35.52},{"pos":35.58},{"pos":35.63},{"pos":35.69},{"pos":35.75},
      {"pos":35.8},{"pos":35.86},{"pos":35.91},{"pos":35.97},{"pos":36.03},{"pos":36.08},{"pos":36.14},{"pos":36.19},{"pos":36.25},{"pos":36.31},{"pos":36.36},{"pos":36.42},{"pos":36.47},{"pos":36.53},{"pos":36.59},{"pos":36.64},{"pos":36.7},{"pos":36.75},{"pos":36.81},{"pos":36.87},
      {"pos":36.92},{"pos":36.98},{"pos":37.03},{"pos":37.09},{"pos":37.15},{"pos":37.2},{"pos":37.26},{"pos":37.31},{"pos":37.37},{"pos":37.43},{"pos":37.48},{"pos":37.54},{"pos":37.6},{"pos":37.65},{"pos":37.83},{"pos":37.89},{"pos":37.94},{"pos":38.0},{"pos":38.06},{"pos":38.11},
      {"pos":38.17},{"pos":38.22},{"pos":38.28},{"pos":38.34},{"pos":38.39},{"pos":38.45},{"pos":38.5},{"pos":38.56},{"pos":38.62},{"pos":38.67},{"pos":38.73},{"pos":38.95},{"pos":39.0},{"pos":39.06},{"pos":39.12},{"pos":39.17},{"pos":39.23},{"pos":39.28},{"pos":39.34},{"pos":39.4},
      {"pos":39.45},{"pos":39.51},{"pos":39.56},{"pos":39.62},{"pos":39.68},{"pos":39.73},{"pos":39.79},{"pos":39.84},{"pos":39.9},{"pos":39.96},{"pos":40.01},{"pos":40.07},{"pos":40.12},{"pos":40.18},{"pos":40.24},{"pos":40.29},{"pos":40.35},{"pos":40.4},{"pos":40.46},{"pos":40.52},
      {"pos":40.57},{"pos":40.63},{"pos":40.68},{"pos":40.74},{"pos":40.8},{"pos":40.85},{"pos":40.91},{"pos":40.96},{"pos":41.02},{"pos":41.08},{"pos":41.13},{"pos":41.19},{"pos":41.24},{"pos":41.3},{"pos":41.36},{"pos":41.41},{"pos":41.47},{"pos":41.52},{"pos":41.58},{"pos":41.64},
      {"pos":41.69},{"pos":41.75},{"pos":41.8},{"pos":41.86},{"pos":41.92},{"pos":41.97},{"pos":42.03},{"pos":42.08},{"pos":42.14},{"pos":42.2},{"pos":42.25},{"pos":42.31},{"pos":42.36},{"pos":42.42},{"pos":42.48},{"pos":42.53},{"pos":42.59},{"pos":42.64},{"pos":42.7},{"pos":42.76},
      {"pos":42.81},{"pos":42.87},{"pos":42.92},{"pos":42.98},{"pos":43.04},{"pos":43.09},{"pos":43.15},{"pos":43.2},{"pos":43.26},{"pos":43.32},{"pos":43.37},{"pos":43.43},{"pos":43.48},{"pos":43.54},{"pos":43.6},{"pos":43.65},{"pos":43.71},{"pos":43.76},{"pos":43.82},{"pos":43.88},
      {"pos":43.93},{"pos":43.99},{"pos":44.04},{"pos":44.1},{"pos":44.16},{"pos":44.21},{"pos":44.27},{"pos":44.32},{"pos":44.38},{"pos":44.44},{"pos":44.49},{"pos":44.55},{"pos":44.6},{"pos":44.66},{"pos":44.72},{"pos":44.77},{"pos":44.83},{"pos":44.88},{"pos":44.94},{"pos":44.99}
    ]
  },
  "layer": [
    {
      "layer": [
        {
          "data": {"name": "pattern"},
          "mark": {"type": "point", "filled": false, "size": 2600, "strokeWidth": 2, "opacity": 1},
          "encoding": {
            "x": {"field": "x", "type": "quantitative", "scale": {"domain": [2, 45], "nice": false, "zero": false},
              "axis": {"values": [2.5,5,7.5,10,12.5,15,17.5,20,22.5,25,27.5,30,32.5,35,37.5,40,42.5,45], "format": ".0f",
                "labelExpr": "datum.value % 5 === 0 ? datum.label : ''",
                "tickSize": {"condition": {"test": "datum.value % 5 === 0", "value": 12}, "value": 6},
                "tickWidth": 2, "domainWidth": 2.5, "labelFont": "Liberation Sans Narrow, Liberation Sans", "labelFontSize": 30, "labelPadding": 7,
                "labelFlush": false, "labelOverlap": false, "title": "2θ(°)", "titleFontSize": 35, "titleX": 487, "titleY": 72, "titleBaseline": "middle"}},
            "y": {"field": "obs", "type": "quantitative", "scale": {"domain": [-3, 11], "nice": false, "zero": false},
              "axis": {"values": [-2.5,0,2.5,5,7.5,10], "format": ".0f", "labelExpr": "datum.value % 5 === 0 ? datum.label : ''",
                "tickSize": 10, "tickWidth": 2, "domainWidth": 2.5, "labelFontSize": 30, "labelPadding": 12, "labelOverlap": false,
                "title": "Intensity (A.U.)", "titleFontSize": 39, "titleX": -61, "titleY": 377, "titleBaseline": "middle"}},
            "color": {"datum": "Yobs", "scale": {"domain": ["Yobs", "Ycalc", "Yobs-Ycalc", "Bragg"], "range": ["#ff0000", "#000000", "#0000ff", "#008000"]},
              "legend": {"title": null, "orient": "none", "legendX": 694, "legendY": 336, "padding": 0, "symbolSize": 900, "labelFontSize": 27, "labelFont": "Liberation Sans", "labelColor": "black", "labelOffset": 21, "rowPadding": 5,
                "encode": {"symbols": {"update": {"stroke": {"scale": "color", "field": "value"}, "fill": {"value": "transparent"}, "strokeWidth": {"value": 1.5}}}}}},
            "shape": {"datum": "Yobs", "scale": {"domain": ["Yobs", "Ycalc", "Yobs-Ycalc", "Bragg"], "range": ["M-0.233,0H0.233M0,-0.233V0.233M-0.165,-0.165L0.165,0.165M-0.165,0.165L0.165,-0.165", "M-2,0H2", "M-2,0H2", "M0,-0.5V0.5"]},
              "legend": {"title": null, "orient": "none", "legendX": 694, "legendY": 336, "padding": 0, "symbolSize": 900, "labelFontSize": 27, "labelFont": "Liberation Sans", "labelColor": "black", "labelOffset": 21, "rowPadding": 5,
                "encode": {"symbols": {"update": {"stroke": {"scale": "color", "field": "value"}, "fill": {"value": "transparent"}, "strokeWidth": {"value": 1.5}}}}}}
          }
        },
        {
          "data": {"name": "pattern"},
          "mark": {"type": "line", "strokeWidth": 1.5},
          "encoding": {
            "x": {"field": "x", "type": "quantitative", "scale": {"domain": [2, 45], "nice": false, "zero": false}},
            "y": {"field": "calc", "type": "quantitative", "scale": {"domain": [-3, 11], "nice": false, "zero": false}},
            "color": {"datum": "Ycalc"}
          }
        },
        {
          "data": {"name": "difference"},
          "mark": {"type": "line", "strokeWidth": 1.4},
          "encoding": {
            "x": {"field": "x", "type": "quantitative", "scale": {"domain": [2, 45], "nice": false, "zero": false}},
            "y": {"field": "diff", "type": "quantitative", "scale": {"domain": [-3, 11], "nice": false, "zero": false}},
            "color": {"datum": "Yobs-Ycalc"}
          }
        }
      ]
    },
    {
      "data": {"name": "bragg"},
      "mark": {"type": "tick", "orient": "vertical", "size": 15, "thickness": 1.6},
      "encoding": {
        "x": {"field": "pos", "type": "quantitative", "scale": {"domain": [2, 45], "nice": false, "zero": false},
          "axis": {"orient": "top", "offset": -6, "values": [2.5,5,7.5,10,12.5,15,17.5,20,22.5,25,27.5,30,32.5,35,37.5,40,42.5,45], "labels": false, "domain": false, "tickSize": 6, "tickWidth": 1.5, "title": null}},
        "y": {"datum": -0.45, "type": "quantitative", "scale": {"domain": [-3, 11], "nice": false, "zero": false}, "axis": null},
        "color": {"datum": "Bragg"}
      }
    },
    {
      "layer": [
        {
          "data": {"values": [{"frame": "inset"}]},
          "mark": {"type": "rect", "fill": "white", "stroke": "black", "strokeWidth": 2},
          "encoding": {
            "x": {"datum": 29.45, "type": "quantitative", "scale": {"domain": [29.45, 45], "range": [162, 924], "nice": false, "zero": false},
              "axis": {"orient": "bottom", "offset": -467, "values": [30,32.5,35,37.5,40,42.5,45], "format": ".0f", "labelExpr": "datum.value % 5 === 0 ? datum.label : ''",
                "tickSize": {"condition": {"test": "datum.value % 5 === 0", "value": 8}, "value": 5}, "tickWidth": 2, "domainWidth": 2, "labelFontSize": 23, "labelPadding": 3, "labelFlush": false, "labelOverlap": false, "title": null}},
            "x2": {"datum": 45},
            "y": {"datum": 0.054, "type": "quantitative", "scale": {"domain": [0.054, 0.1152], "range": [238, 26], "nice": false, "zero": false},
              "axis": {"orient": "left", "offset": -162, "values": [0.055,0.06,0.065,0.07,0.075,0.08,0.085,0.09,0.095,0.1,0.105,0.11,0.115], "format": ".2f",
                "labelExpr": "round(datum.value * 1000) % 10 === 0 ? datum.label : ''",
                "tickSize": {"condition": {"test": "round(datum.value * 1000) % 10 === 0", "value": 8}, "value": 4}, "tickWidth": 2, "domainWidth": 2, "labelFontSize": 23, "labelPadding": 3, "labelOverlap": false, "title": null}},
            "y2": {"datum": 0.1152}
          }
        },
        {
          "data": {"name": "pattern"},
          "transform": [{"filter": "datum.x >= 29.45"}],
          "mark": {"type": "point", "filled": false, "size": 1250, "strokeWidth": 2, "opacity": 1},
          "encoding": {
            "x": {"field": "x", "type": "quantitative"},
            "y": {"field": "obs", "type": "quantitative"},
            "color": {"datum": "Yobs"},
            "shape": {"datum": "Yobs"}
          }
        },
        {
          "data": {"name": "pattern"},
          "transform": [{"filter": "datum.x >= 29.45"}],
          "mark": {"type": "line", "strokeWidth": 1.2},
          "encoding": {
            "x": {"field": "x", "type": "quantitative"},
            "y": {"field": "calc", "type": "quantitative"},
            "color": {"datum": "Ycalc"}
          }
        }
      ]
    }
  ],
  "resolve": {"scale": {"x": "independent", "y": "independent"}, "axis": {"x": "independent", "y": "independent"}}
}
